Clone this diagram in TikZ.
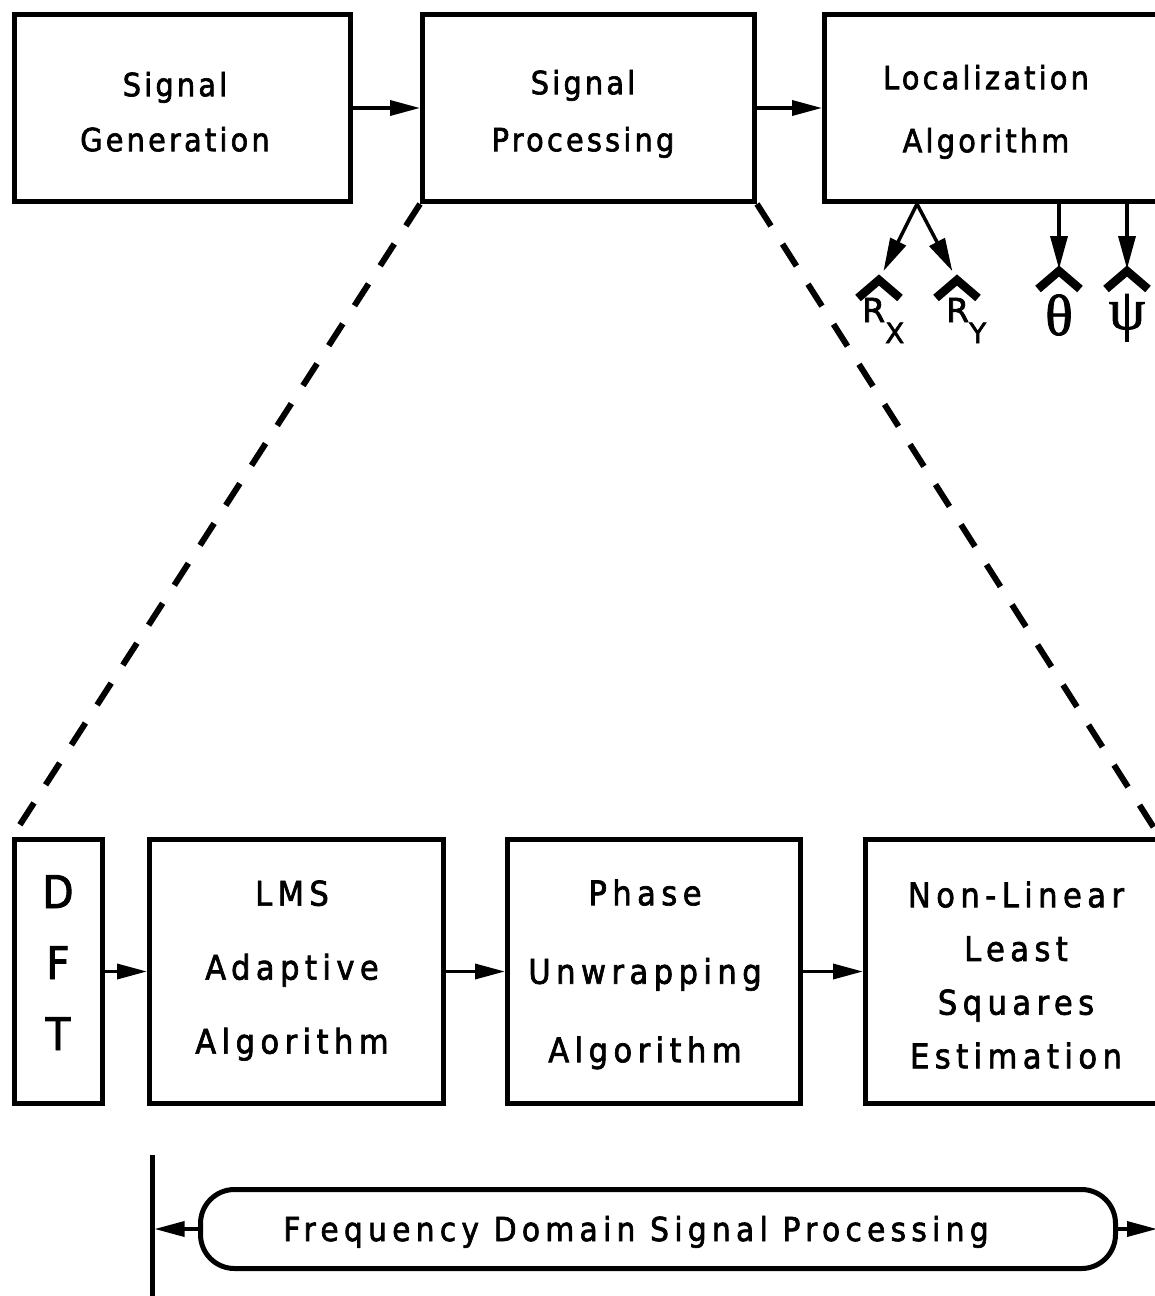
\documentclass[tikz,border=0pt]{standalone}
\usepackage{fontspec}
\setmainfont{DejaVu Sans}
\newfontfamily\fA[FakeStretch=0.9, FakeBold=2, LetterSpace=10]{DejaVu Sans}
\newfontfamily\fB[FakeStretch=0.9, FakeBold=2, LetterSpace=16]{DejaVu Sans}
\newfontfamily\fC[FakeStretch=0.9, FakeBold=2]{DejaVu Sans}
\newfontfamily\fD[FakeBold=2]{DejaVu Sans}
\newfontfamily\fG[FakeBold=1.5]{Liberation Serif}
\usetikzlibrary{arrows.meta}
\begin{document}
\begin{tikzpicture}[x=1pt,y=-1pt,
  box/.style={draw, line width=5pt, inner sep=0pt},
  tA/.style={font=\fA\fontsize{32}{#1}\selectfont, align=center, inner sep=0pt, anchor=north},
  tB/.style={font=\fB\fontsize{34}{#1}\selectfont, align=center, inner sep=0pt, anchor=north},
  arr/.style={line width=3.5pt, -{Triangle[length=30pt,width=15pt]}},
  arrb/.style={line width=3.5pt, -{Triangle[length=33pt,width=17pt]}},
  dashline/.style={line width=6pt, dash pattern=on 26pt off 21.5pt},
  hat/.style={line width=8.5pt, miter limit=4},
  lab/.style={font=\fD\fontsize{33}{33}\selectfont, inner sep=0pt, anchor=base west},
  greek/.style={font=\fG\fontsize{58}{58}\selectfont, inner sep=0pt, anchor=base}]
\useasboundingbox (0,0) rectangle (1155,1296);

% top row
\node[box, minimum width=336pt, minimum height=187pt] (sg) at (182.5,108) {};
\node[box, minimum width=332pt, minimum height=187pt] (sp) at (588.5,108) {};
\node[box, minimum width=338pt, minimum height=187pt] (la) at (993.5,108) {};
\node[tA=55] (sgt) at (175,71.7) {Signal\\Generation};
\node[tA=57] (spt) at (583,69.7) {Signal\\Processing};
\node[tA=63] (lat) at (986,64.7) {Localization\\Algorithm};
\draw[arr] (sg.east) -- (sp.west);
\draw[arr] (sp.east) -- (la.west);

% outputs of localization
\coordinate (split) at (917,204);
\coordinate (rxh) at (879,280);
\coordinate (ryh) at (957,280);
\coordinate (th) at (1059,271);
\coordinate (ph) at (1127,271);
\draw[arrb, shorten >=10pt] (split) -- (rxh);
\draw[arrb, shorten >=10pt] (split) -- (ryh);
\draw[arrb, shorten >=2pt] (th |- la.south) -- (th);
\draw[arrb, shorten >=2pt] (ph |- la.south) -- (ph);
\draw[hat] ([shift={(-21,18)}]rxh) -- (rxh) -- ([shift={(21,18)}]rxh);
\draw[hat] ([shift={(-21,18)}]ryh) -- (ryh) -- ([shift={(21,18)}]ryh);
\draw[hat] ([shift={(-21,18)}]th) -- (th) -- ([shift={(21,18)}]th);
\draw[hat] ([shift={(-21,18)}]ph) -- (ph) -- ([shift={(21,18)}]ph);
\node[lab] (rx) at (862,322) {R\raisebox{-21pt}{\fontsize{28}{28}\selectfont X}};
\node[lab] (ry) at (946,322) {R\raisebox{-21pt}{\fontsize{28}{28}\selectfont Y}};
\node[greek] (theta) at (1059,335) {θ};
\node[greek] (psi) at (1127,329) {ψ};

% bottom row
\node[box, minimum width=88pt, minimum height=264pt] (dft) at (58.5,971.5) {};
\node[box, minimum width=294pt, minimum height=264pt] (lms) at (296.5,971.5) {};
\node[box, minimum width=293pt, minimum height=264pt] (phu) at (654,971.5) {};
\node[box, minimum width=297pt, minimum height=264pt] (nl) at (1014,971.5) {};
\node[font=\fC\fontsize{45}{71}\selectfont, align=center, inner sep=0pt, anchor=north] (dftt) at (58,875) {D\\F\\T};
\node[tB=74] (lmst) at (292,880.2) {LMS\\Adaptive\\Algorithm};
\node[tB=78.5] (pht) at (645,879.2) {Phase\\Unwrapping\\Algorithm};
\node[tB=53.7] (nlt) at (1016,881.2) {Non-Linear\\Least\\Squares\\Estimation};
\draw[arr] (dft.east) -- (lms.west);
\draw[arr] (lms.east) -- (phu.west);
\draw[arr] (phu.east) -- (nl.west);

% zoom lines
\coordinate (rend) at (1163,842);
\draw[dashline] (sp.south west) -- (dft.north west);
\draw[dashline] (sp.south east) -- (rend);

% frequency domain bar
\coordinate (vt) at (152,1155);
\coordinate (vb) at (152,1300);
\draw[line width=5pt] (vt) -- (vb);
\node[box, rounded corners=34pt, minimum width=915pt, minimum height=79pt] (fd) at (658,1229) {};
\node[font=\fB\fontsize{33}{33}\selectfont, inner sep=0pt, anchor=base] (fdt) at (636,1241) {Frequency Domain Signal Processing};
\coordinate (fdr) at (1157,1229);
\draw[arr, shorten >=2.5pt] (fd.west) -- (fd.west -| vt);
\draw[arr] (fd.east) -- (fdr);
\end{tikzpicture}
\end{document}
